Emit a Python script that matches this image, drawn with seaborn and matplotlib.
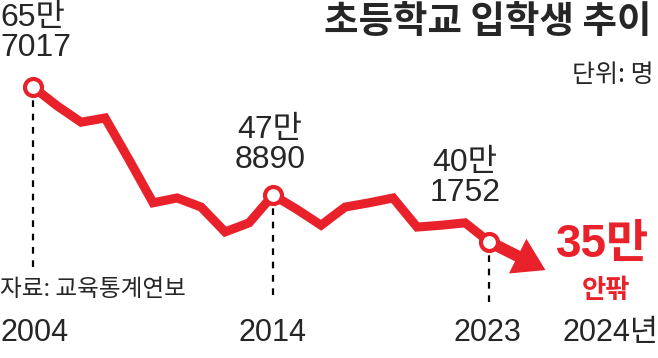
import matplotlib
matplotlib.use('Agg')
import matplotlib.pyplot as plt
import seaborn as sns
import pandas as pd

# Data
years = [2004, 2005, 2006, 2007, 2008, 2009, 2010, 2011, 2012, 2013,
         2014, 2015, 2016, 2017, 2018, 2019, 2020, 2021, 2022, 2023]
entrants = [657017, 626000, 599000, 606000, 537000, 466000, 474000, 459000, 418000, 433000,
            478890, 455000, 429000, 459000, 466000, 474000, 426000, 429000, 433000, 401752]
marked_years = [2004, 2014, 2023]
marked_labels = ['65만\n7017', '47만\n8890', '40만\n1752']
forecast_year = 2024
forecast_value = 355000
tick_labels = ['2004', '2014', '2023', '2024년']

RED = '#e8212b'
sns.set_style('white')
plt.rcParams['font.family'] = ['Liberation Sans', 'Noto Sans CJK KR', 'DejaVu Sans']
KR = ['Noto Sans CJK KR', 'DejaVu Sans']

df = pd.DataFrame({'year': years, 'entrants': entrants})

fig = plt.figure(figsize=(6.58, 3.58), dpi=100)
ax = fig.add_axes([0, 0, 1, 1])
ax.set_xlim(2002.62, 2030.04)
ax.set_ylim(209940, 800640)
ax.axis('off')

# dashed guides
guide_bottom = {2004: 268, 2014: 300, 2023: 305}
for yr in marked_years:
    v = df.loc[df.year == yr, 'entrants'].iloc[0]
    ybot = 478890 - (guide_bottom[yr] - 195) * 1650
    ax.plot([yr, yr], [v, ybot], color='black', lw=1.6, ls=(0, (3, 3)), zorder=1)

sns.lineplot(data=df, x='year', y='entrants', ax=ax, color=RED, lw=6.5,
             solid_joinstyle='miter', zorder=3)

# arrow toward 2024 estimate
last = df.entrants.iloc[-1]
ax.annotate('', xy=(forecast_year + 1.35, forecast_value), xytext=(years[-1], last),
            arrowprops=dict(arrowstyle='simple,head_length=1.6,head_width=2.0,tail_width=0.6',
                            color=RED, lw=0, shrinkA=0, shrinkB=0, mutation_scale=14), zorder=3)

mk = df[df.year.isin(marked_years)]
ax.scatter(mk.year, mk.entrants, s=150, facecolor='white', edgecolor=RED,
           linewidth=3, zorder=5)

def ft(x, y, s, **kw):
    fig.text(x / 658, 1 - y / 358, s, **kw)

# value labels
ft(0, 33, marked_labels[0], fontsize=23, ha='left', va='center', linespacing=1.0)
ft(270, 145, marked_labels[1], fontsize=23, ha='center', va='center', linespacing=1.0)
ft(465, 178, marked_labels[2], fontsize=23, ha='center', va='center', linespacing=1.0)

ft(652, 21, '초등학교 입학생 추이', fontsize=27, fontweight='bold', ha='right', va='center',
   family=KR)
ft(654, 75, '단위: 명', fontsize=18, ha='right', va='center', family=KR)
ft(0, 290, '자료: 교육통계연보', fontsize=17, ha='left', va='center', family=KR)

ft(603, 245, '35만', fontsize=33, fontweight='bold', color=RED, ha='center', va='center')
ft(606, 290, '안팎', fontsize=19, fontweight='bold', color=RED, ha='center', va='center',
   family=KR)

# year labels
for xp, lab in zip([35, 273, 487, 610], tick_labels):
    ft(xp, 333, lab, fontsize=22, ha='center', va='center')

fig.savefig('out.png', dpi=100)
